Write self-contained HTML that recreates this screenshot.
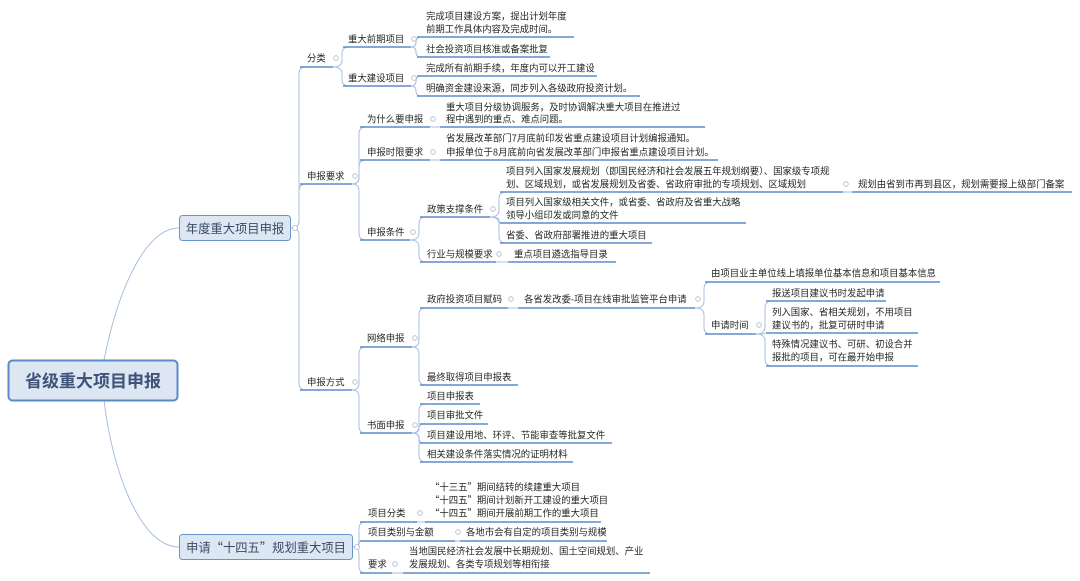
<!DOCTYPE html>
<html><head><meta charset="utf-8">
<style>
html,body{margin:0;padding:0;background:#fff;}
svg{display:block;}
text{font-family:"Noto Sans CJK SC","Liberation Sans",sans-serif;fill:#262626;}
</style></head>
<body>
<svg id="s" width="1080" height="581" viewBox="0 0 1080 581" xmlns="http://www.w3.org/2000/svg">
<path d="M104,360 C118,290 145,228 179,228" fill="none" stroke="#a9bfe0" stroke-width="1"/>
<path d="M104,400 C112,470 140,547 179,547" fill="none" stroke="#a9bfe0" stroke-width="1"/>
<rect x="8.5" y="360.5" width="169" height="40" rx="4" fill="#dde7f3" stroke="#5b8ac6" stroke-width="2"/>
<text x="93" y="387" text-anchor="middle" style="font-size:17px;font-weight:bold;fill:#3d5478">省级重大项目申报</text>
<rect x="179.5" y="215.5" width="111" height="25" rx="3" fill="#dde7f3" stroke="#6a95cc" stroke-width="1"/>
<text x="235" y="233" text-anchor="middle" style="font-size:12.3px;fill:#3a4a66">年度重大项目申报</text>
<rect x="179.5" y="534.5" width="173" height="25" rx="3" fill="#dde7f3" stroke="#6a95cc" stroke-width="1"/>
<text x="266" y="552" text-anchor="middle" style="font-size:12.3px;fill:#3a4a66">申请“十四五”规划重大项目</text>
<g id="g"></g>
</svg>
<script>
var N={
A:{end:[291,228],circ:[295,228]},
B:{end:[353,547],circ:[357,547]},
fl:['A',['分类'],307,[58],67,300,333,1],
q1:['fl',['重大前期项目'],348,[39],47,343,411,1],
q1a:['q1',['完成项目建设方案，提出计划年度','前期工作具体内容及完成时间。'],426,[16,29],37,417,574],
q1b:['q1',['社会投资项目核准或备案批复'],426,[49],57,417,550],
q2:['fl',['重大建设项目'],348,[78],86,343,411,1],
q2a:['q2',['完成所有前期手续，年度内可以开工建设'],426,[68],76,417,597],
q2b:['q2',['明确资金建设来源，同步列入各级政府投资计划。'],426,[88],96,417,640],
yq:['A',['申报要求'],307,[176],184,300,352,1],
w:['yq',['为什么要申报'],367,[119],127,360,430,1],
wa:['w',['重大项目分级协调服务，及时协调解决重大项目在推进过','程中遇到的重点、难点问题。'],446,[107,119],127,440,705],
t:['yq',['申报时限要求'],367,[152],160,360,430,1],
ta:['t',['省发展改革部门7月底前印发省重点建设项目计划编报通知。','申报单位于8月底前向省发展改革部门申报省重点建设项目计划。'],446,[138,152],160,440,718],
tj:['yq',['申报条件'],367,[232],240,360,410,1],
zc:['tj',['政策支撑条件'],427,[209],217,420,490,1],
zc1:['zc',['项目列入国家发展规划（即国民经济和社会发展五年规划纲要）、国家级专项规','划、区域规划，或省发展规划及省委、省政府审批的专项规划、区域规划'],506,[171,184],192,500,843,1],
zc1a:['zc1',['规划由省到市再到县区，规划需要报上级部门备案'],858,[184],192,852,1072],
zc2:['zc',['项目列入国家级相关文件，或省委、省政府及省重大战略','领导小组印发或同意的文件'],506,[202,215],223,500,746],
zc3:['zc',['省委、省政府部署推进的重大项目'],506,[235],243,500,652],
hy:['tj',['行业与规模要求'],427,[254],262,420,496,1],
hya:['hy',['重点项目遴选指导目录'],514,[254],262,508,616],
fs:['A',['申报方式'],307,[382],390,300,352,1],
wl:['fs',['网络申报'],367,[338],347,360,412,1],
zf:['wl',['政府投资项目赋码'],427,[299],308,420,508,1],
gs:['zf',['各省发改委-项目在线审批监管平台申请'],524,[299],308,518,695,1],
gs1:['gs',['由项目业主单位线上填报单位基本信息和项目基本信息'],711,[273],282,705,940],
sq:['gs',['申请时间'],711,[325],334,705,756,1],
sq1:['sq',['报送项目建议书时发起申请'],772,[293],301,766,886],
sq2:['sq',['列入国家、省相关规划，不用项目','建议书的，批复可研时申请'],772,[312,325],333,766,918],
sq3:['sq',['特殊情况建议书、可研、初设合并','报批的项目，可在最开始申报'],772,[344,357],366,766,918],
zz:['wl',['最终取得项目申报表'],427,[377],385,420,518],
sm:['fs',['书面申报'],367,[425],433,360,412,1],
sm1:['sm',['项目申报表'],427,[396],404,420,480],
sm2:['sm',['项目审批文件'],427,[415],424,420,488],
sm3:['sm',['项目建设用地、环评、节能审查等批复文件'],427,[435],443,420,612],
sm4:['sm',['相关建设条件落实情况的证明材料'],427,[454],462,420,573],
xf:['B',['项目分类'],368,[513],522,360,417,1],
xf1:['xf',['“十三五”期间结转的续建重大项目','“十四五”期间计划新开工建设的重大项目','“十四五”期间开展前期工作的重大项目'],430,[487,500,513],522,425,601],
lb:['B',['项目类别与金额'],368,[532],541,360,455,1],
lb1:['lb',['各地市会有自定的项目类别与规模'],466,[532],541,460,607],
yqq:['B',['要求'],368,[564],573,360,392,1],
yq1:['yqq',['当地国民经济社会发展中长期规划、国土空间规划、产业','发展规划、各类专项规划等相衔接'],409,[551,564],573,403,650]
};
var g=document.getElementById('g'),conn='',lines='',txt='',circ='';
function ep(id){var p=N[id];if(p.end)return p.end;return [p[6],p[4]];}
for(var k in N){var n=N[k];if(n.end){circ+='<circle cx="'+n.circ[0]+'" cy="'+n.circ[1]+'" r="2.5" fill="#fff" stroke="#a8b8cc" stroke-width="0.8"/>';continue;}
var P=ep(n[0]),px=P[0],py=P[1],X=n[5]-1,cy=n[4];var dy=cy-py,s=dy>0?1:-1,r=Math.min(7,Math.abs(dy)/2);
if(Math.abs(dy)<1){conn+='<path d="M'+px+','+py+' L'+n[5]+','+cy+'"/>';}
else conn+='<path d="M'+px+','+py+' Q'+X+','+py+' '+X+','+(py+s*r)+' L'+X+','+(cy-s*r)+' Q'+X+','+cy+' '+(X+r)+','+cy+'"/>';
lines+='<line x1="'+n[5]+'" y1="'+cy+'" x2="'+n[6]+'" y2="'+cy+'"/>';
for(var i=0;i<n[1].length;i++)txt+='<text x="'+n[2]+'" y="'+(n[3][i]+3.5)+'" style="font-size:9.4px">'+n[1][i]+'</text>';
if(n[7])circ+='<circle cx="'+(n[6]+3)+'" cy="'+n[3][n[3].length-1]+'" r="2.3" fill="#fff" stroke="#a8b8cc" stroke-width="0.8"/>';}
g.innerHTML='<g fill="none" stroke="#a9bfe0" stroke-width="1">'+conn+'</g><g stroke="#5f8cc8" stroke-width="1.4">'+lines+'</g>'+txt+circ;
</script>
</body></html>
